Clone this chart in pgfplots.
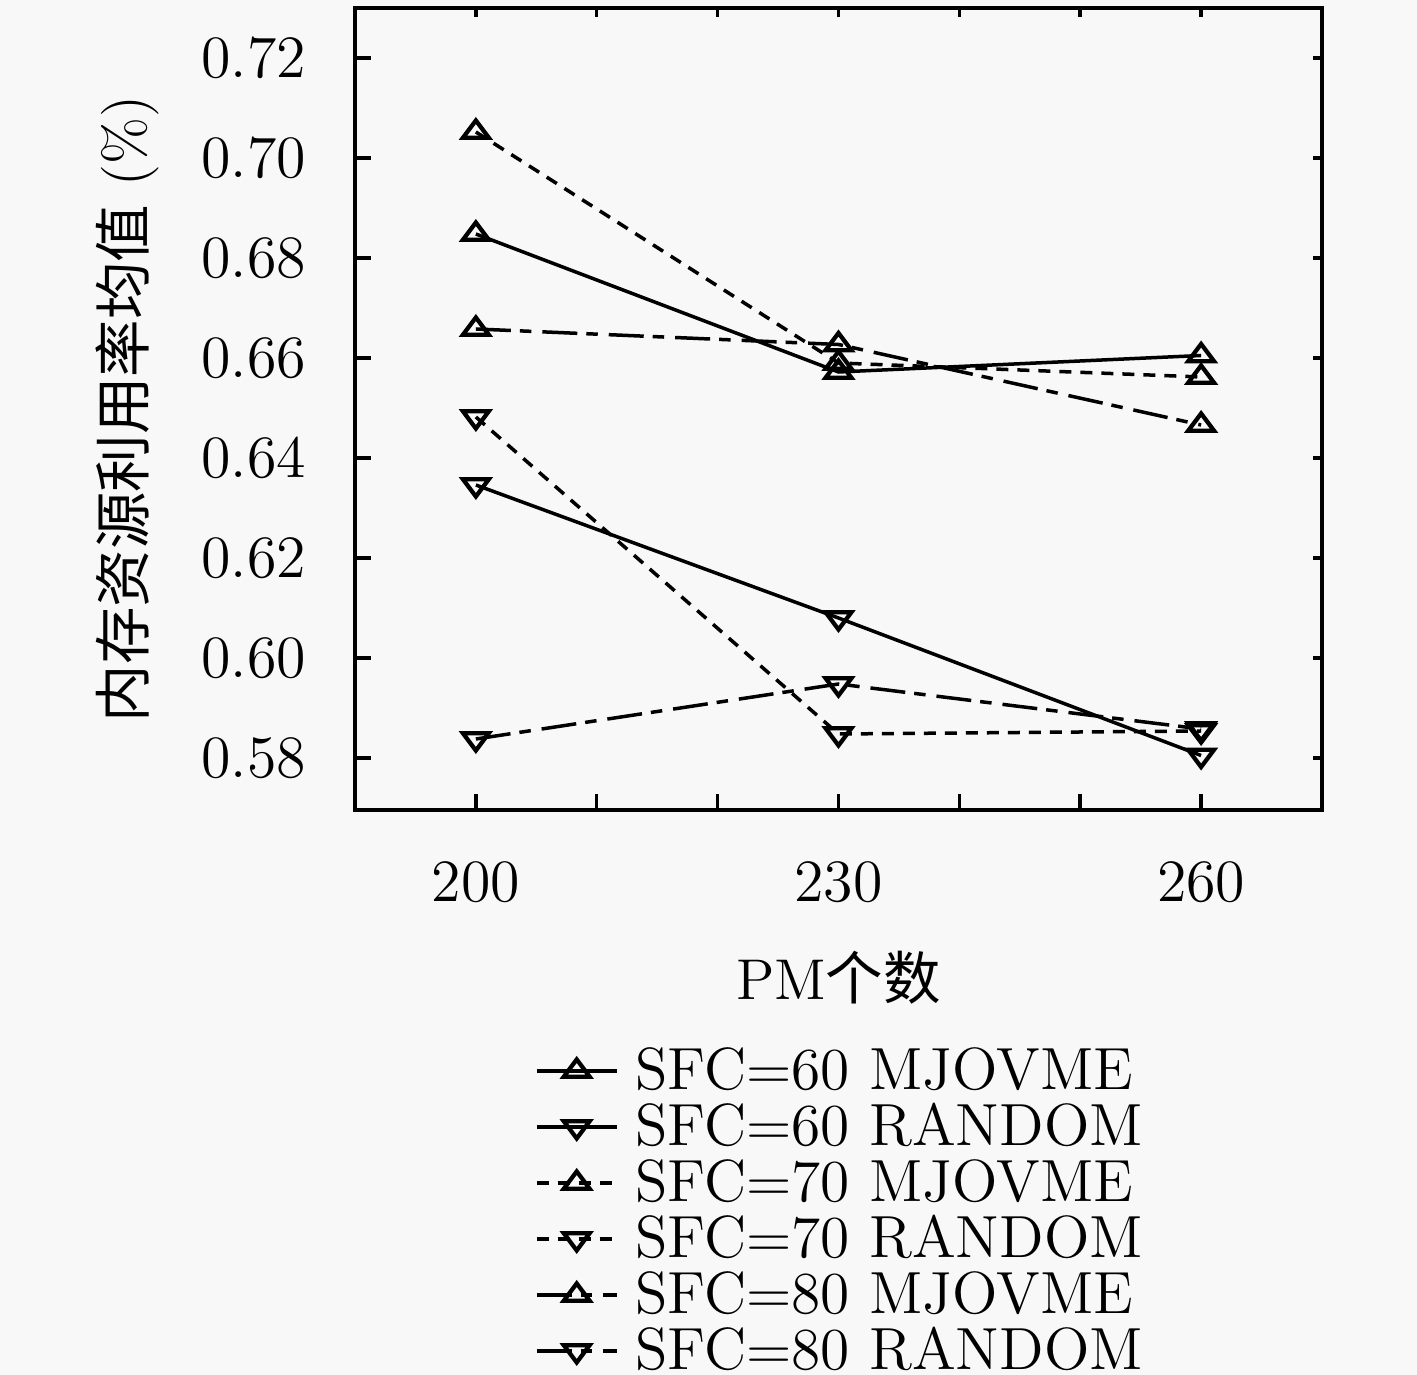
\documentclass[border=0pt]{standalone}
\usepackage{fontspec}
\usepackage{pgfplots}
\pgfplotsset{compat=1.18}
\newfontfamily\cjk{Noto Sans CJK SC}
\definecolor{bg}{RGB}{248,248,248}
\pgfplotsset{
 up/.style={black, line width=0.7pt, mark=triangle, mark size=2.3pt, mark options={solid, line width=0.85pt, xscale=1.3}},
 dn/.style={black, line width=0.7pt, mark=triangle, mark size=2.3pt, mark options={solid, line width=0.85pt, xscale=1.3, rotate=180}},
 dsh/.style={dash pattern=on 2.4pt off 1.8pt},
 dd/.style={dash pattern=on 7pt off 1.8pt on 2.3pt off 2.2pt},
}
\begin{document}
\fontsize{11.5}{13.8}\selectfont
\begin{tikzpicture}
\fill[bg] (-71pt,-113pt) rectangle (212.4pt,162pt);
\begin{axis}[
  at={(0,0)}, anchor=south west,
  scale only axis, width=193.4pt, height=160.4pt,
  xmin=190, xmax=270, ymin=0.5696, ymax=0.73,
  axis line style={line width=0.8pt},
  xtick={200,230,260}, minor xtick={210,220,240,250},
  ytick={0.58,0.60,0.62,0.64,0.66,0.68,0.70,0.72},
  xtick pos=left, ytick pos=left,
  tick align=inside,
  major tick length=3.2pt, minor tick length=3.2pt,
  tick style={line width=0.7pt, black},
  scaled y ticks=false,
  yticklabel style={/pgf/number format/fixed, /pgf/number format/fixed zerofill, /pgf/number format/precision=2, anchor=east, inner sep=0pt, xshift=-9.6pt},
  xticklabel style={anchor=north, inner sep=0pt, yshift=-10.4pt},
  xlabel={PM{\cjk 个数}},
  xlabel style={at={(axis description cs:0.5,-0.2369)}, anchor=base, inner sep=0pt},
  ylabel={{\cjk 内存资源利用率均值} (\%)},
  ylabel style={at={(axis description cs:-0.2172,0.5)}, anchor=base, inner sep=0pt},
  legend style={at={(0.1861,-0.3017)}, anchor=north west, draw=none, fill=none, inner sep=0pt, outer sep=0pt, row sep=0pt, column sep=3.4pt, font=\fontsize{11.9}{14}\selectfont, nodes={inner sep=0pt, text height=7.6pt, text depth=3.6pt}},
  legend cell align=left,
  legend image code/.code={\draw[mark repeat=2,mark phase=2,#1] plot coordinates {(0pt,1.8pt) (8pt,1.8pt) (16pt,1.8pt)};},
]
\addplot[up] coordinates {(200,0.6848) (230,0.6572) (260,0.6605)};
\addlegendentry{SFC=60 MJOVME}
\addplot[dn] coordinates {(200,0.6346) (230,0.6080) (260,0.5805)};
\addlegendentry{SFC=60 RANDOM}
\addplot[up,dsh] coordinates {(200,0.7052) (230,0.6590) (260,0.6562)};
\addlegendentry{SFC=70 MJOVME}
\addplot[dn,dsh] coordinates {(200,0.6482) (230,0.5848) (260,0.5854)};
\addlegendentry{SFC=70 RANDOM}
\addplot[up,dd] coordinates {(200,0.6658) (230,0.6627) (260,0.6466)};
\addlegendentry{SFC=80 MJOVME}
\addplot[dn,dd] coordinates {(200,0.5838) (230,0.5948) (260,0.5858)};
\addlegendentry{SFC=80 RANDOM}
\end{axis}
\begin{axis}[
  at={(0,0)}, anchor=south west,
  scale only axis, width=193.4pt, height=160.4pt,
  xmin=190, xmax=270, ymin=0.5696, ymax=0.73,
  axis line style={line width=0.8pt},
  xtick={200,210,220,230,240,250,260},
  ytick={0.58,0.60,0.62,0.64,0.66,0.68,0.70,0.72},
  xtick pos=right, ytick pos=right,
  xticklabels={}, yticklabels={},
  tick align=inside,
  major tick length=1.8pt,
  tick style={line width=0.7pt, black},
]
\end{axis}
\pgfresetboundingbox
\path[use as bounding box] (-71pt,-113pt) rectangle (212.4pt,162pt);
\end{tikzpicture}
\end{document}
